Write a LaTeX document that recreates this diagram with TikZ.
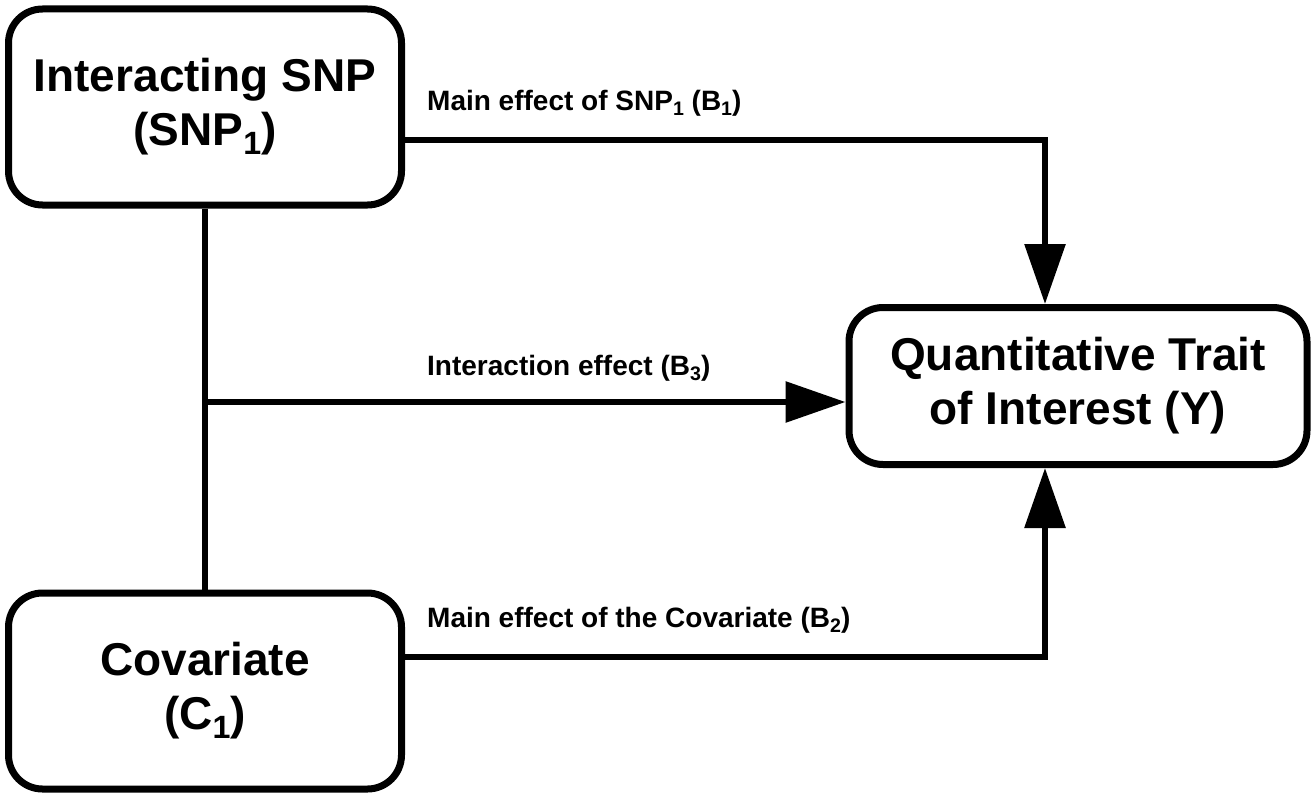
\documentclass[tikz,border=0pt]{standalone}
\usepackage{fontspec}
\setmainfont{Liberation Sans}
\usetikzlibrary{arrows.meta}
\newcommand{\sbx}[1]{\raisebox{-0.35ex}{\scalebox{0.7}{#1}}}
\begin{document}
\begin{tikzpicture}[x=1pt,y=-1pt,
 box/.style={draw,line width=7pt,rounded corners=34pt,align=center,font=\fontsize{46}{54}\selectfont\bfseries},
 lab/.style={anchor=base west,font=\fontsize{28}{32}\selectfont\bfseries,inner sep=0},
 ln/.style={line width=6pt},
 arr/.style={ln,-{Triangle[length=60pt,width=40pt]}}]
\useasboundingbox (0,0) rectangle (1316,800);
\node[box,minimum width=393pt,minimum height=196pt] (snp) at (205,107) {Interacting SNP\\(SNP\sbx{1})};
\node[box,minimum width=393pt,minimum height=196pt] (cov) at (205,691) {Covariate\\(C\sbx{1})};
\node[box,minimum width=458pt,minimum height=157pt] (y) at (1078,386) {Quantitative Trait\\of Interest (Y)};
\coordinate (j) at (205,402);
\draw[ln] (snp.south) -- (cov.north);
\draw[arr] (j) -- (y.west |- j);
\draw[arr] (snp.east |- 0,140) -| (1045,0 |- y.north);
\draw[arr] (cov.east |- 0,657) -| (1045,0 |- y.south);
\node[lab] (l1) at (427,110) {Main effect of SNP\sbx{1} (B\sbx{1})};
\node[lab] (l2) at (427,375) {Interaction effect (B\sbx{3})};
\node[lab] (l3) at (427,627) {Main effect of the Covariate (B\sbx{2})};
\end{tikzpicture}
\end{document}
